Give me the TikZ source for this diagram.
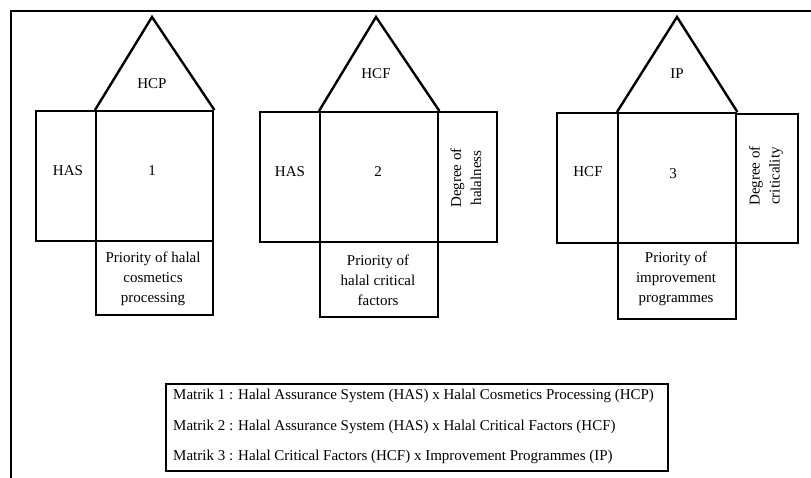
\documentclass[tikz,border=0pt]{standalone}
\usepackage{fontspec}
\setmainfont{Liberation Serif}
\begin{document}
\begin{tikzpicture}[x=1pt,y=-1pt,
  cell/.style={draw, line width=2.4pt, inner sep=0pt, anchor=north west, align=center},
  roof/.style={draw, line width=2.4pt, line join=miter},
  lbl/.style={inner sep=0pt, font=\fontsize{15}{20}\selectfont, align=center},
  leg/.style={inner sep=0pt, anchor=west, font=\fontsize{15}{17}\selectfont}]
\useasboundingbox (0,0) rectangle (811,478);
% outer frame
\draw[line width=2pt] (11,490) -- (11,11) -- (830,11);
% unit 1
\node[cell, minimum width=60pt, minimum height=130pt] (L1) at (35,110) {};
\node[cell, minimum width=117pt, minimum height=130pt] (M1) at (95,110) {};
\node[cell, minimum width=117pt, minimum height=74pt] (B1) at (95,240) {};
\coordinate (A1) at (152,17);
\draw[roof] (M1.north west) -- (A1) -- (M1.north east);
\node[lbl] (T1) at (152,84) {HCP};
\node[lbl] (H1) at (68,171) {HAS};
\node[lbl] (N1) at (152,171) {1};
\node[lbl] (P1) at (153,279) {Priority of halal\\cosmetics\\processing};
% unit 2
\node[cell, minimum width=60pt, minimum height=130pt] (L2) at (259,111) {};
\node[cell, minimum width=118pt, minimum height=130pt] (M2) at (319,111) {};
\node[cell, minimum width=59pt, minimum height=130pt] (R2) at (437,111) {};
\node[cell, minimum width=118pt, minimum height=75pt] (B2) at (319,241) {};
\coordinate (A2) at (376,17);
\draw[roof] (M2.north west) -- (A2) -- (M2.north east);
\node[lbl] (T2) at (376,74) {HCF};
\node[lbl] (H2) at (290,172) {HAS};
\node[lbl] (N2) at (378,172) {2};
\node[lbl, rotate=90] (D2) at (466,178) {Degree of\\halalness};
\node[lbl] (P2) at (378,280) {Priority of\\halal critical\\factors};
% unit 3
\node[cell, minimum width=61pt, minimum height=130pt] (L3) at (556,112) {};
\node[cell, minimum width=118pt, minimum height=130pt] (M3) at (617,112) {};
\node[cell, minimum width=62pt, minimum height=129pt] (R3) at (735,113) {};
\node[cell, minimum width=118pt, minimum height=76pt] (B3) at (617,242) {};
\coordinate (A3) at (677,17);
\draw[roof] (M3.north west) -- (A3) -- (M3.north east);
\node[lbl] (T3) at (677,74) {IP};
\node[lbl] (H3) at (588,172) {HCF};
\node[lbl] (N3) at (673,174) {3};
\node[lbl, rotate=90] (D3) at (766,176) {Degree of\\criticality};
\node[lbl] (P3) at (676,279) {Priority of\\improvement\\programmes};
% legend
\node[draw, line width=2.4pt, inner sep=0pt, anchor=north west, minimum width=502pt, minimum height=87pt] (LG) at (165,383) {};
\node[leg] (G1) at (173,396) {Matrik 1 : Halal Assurance System (HAS) x Halal Cosmetics Processing (HCP)};
\node[leg] (G2) at (173,427) {Matrik 2 : Halal Assurance System (HAS) x Halal Critical Factors (HCF)};
\node[leg] (G3) at (173,457) {Matrik 3 : Halal Critical Factors (HCF) x Improvement Programmes (IP)};
\end{tikzpicture}
\end{document}
